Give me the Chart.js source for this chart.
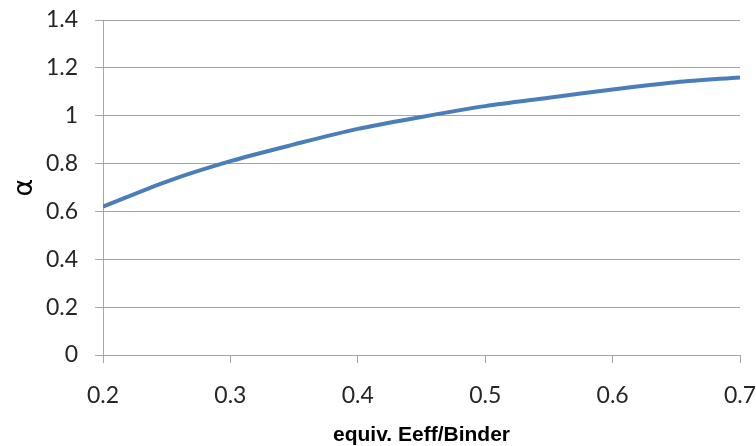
<!DOCTYPE html>
<html>
<head>
<meta charset="utf-8">
<script src="https://cdn.jsdelivr.net/npm/chart.js@4"></script>
<style>
  html, body { margin: 0; padding: 0; background: #fff; }
  #wrap { width: 756px; height: 446px; }
</style>
</head>
<body>
<div id="wrap"><canvas id="alphaChart" width="756" height="446"></canvas></div>
<script>
// values
const ratio = [0.2, 0.25, 0.3, 0.35, 0.4, 0.45, 0.5, 0.55, 0.6, 0.65, 0.7];
const alpha = [0.62, 0.725, 0.81, 0.88, 0.945, 0.995, 1.04, 1.075, 1.11, 1.14, 1.16];
const xTicks = [0.2, 0.3, 0.4, 0.5, 0.6, 0.7];
const yTicks = [0, 0.2, 0.4, 0.6, 0.8, 1, 1.2, 1.4];

const gridColor = "#a6a6a6";
const tickFont = { family: "Lato, 'Open Sans', sans-serif", size: 23 };

const ctx = document.getElementById("alphaChart").getContext("2d");

new Chart(ctx, {
  type: "scatter",
  data: {
    datasets: [
      {
        data: ratio.map((x, i) => ({ x: x, y: alpha[i] })),
        showLine: true,
        borderColor: "#4a7ebb",
        borderWidth: 4,
        pointRadius: 0,
        tension: 0.3,
        fill: false,
      },
    ],
  },
  options: {
    responsive: false,
    animation: false,
    layout: { padding: { top: 20, right: 16, left: 0, bottom: 0 } },
    plugins: {
      legend: { display: false },
      tooltip: { enabled: false },
    },
    scales: {
      x: {
        type: "linear",
        min: 0.2,
        max: 0.7,
        afterBuildTicks: (scale) => {
          scale.ticks = xTicks.map((v) => ({ value: v }));
        },
        afterFit: (scale) => {
          scale.height = 91;
          scale.paddingLeft = 0;
          scale.paddingRight = 0;
        },
        grid: {
          display: true,
          drawOnChartArea: false,
          drawTicks: true,
          tickLength: 8,
          color: gridColor,
        },
        border: { color: gridColor },
        ticks: {
          font: tickFont,
          color: "#262626",
          padding: 19,
          maxRotation: 0,
          callback: (v) => String(v),
        },
        title: {
          display: true,
          text: "equiv. Eeff/Binder",
          font: { family: "Arial, 'Liberation Sans', sans-serif", size: 21, weight: "bold", lineHeight: 1 },
          color: "#000",
          padding: { top: 0, bottom: 0 },
        },
      },
      y: {
        min: 0,
        max: 1.4,
        afterBuildTicks: (scale) => {
          scale.ticks = yTicks.map((v) => ({ value: v }));
        },
        afterFit: (scale) => {
          scale.width = 103;
          scale.paddingTop = 0;
          scale.paddingBottom = 0;
        },
        grid: {
          color: gridColor,
          tickLength: 8,
        },
        border: { color: gridColor },
        ticks: {
          font: tickFont,
          color: "#262626",
          padding: 17,
          callback: (v) => String(v),
        },
        title: {
          display: true,
          text: "α",
          font: { family: "'DejaVu Sans', sans-serif", size: 27 },
          color: "#000",
          padding: { top: 9, bottom: 0 },
        },
      },
    },
  },
});
</script>
</body>
</html>
